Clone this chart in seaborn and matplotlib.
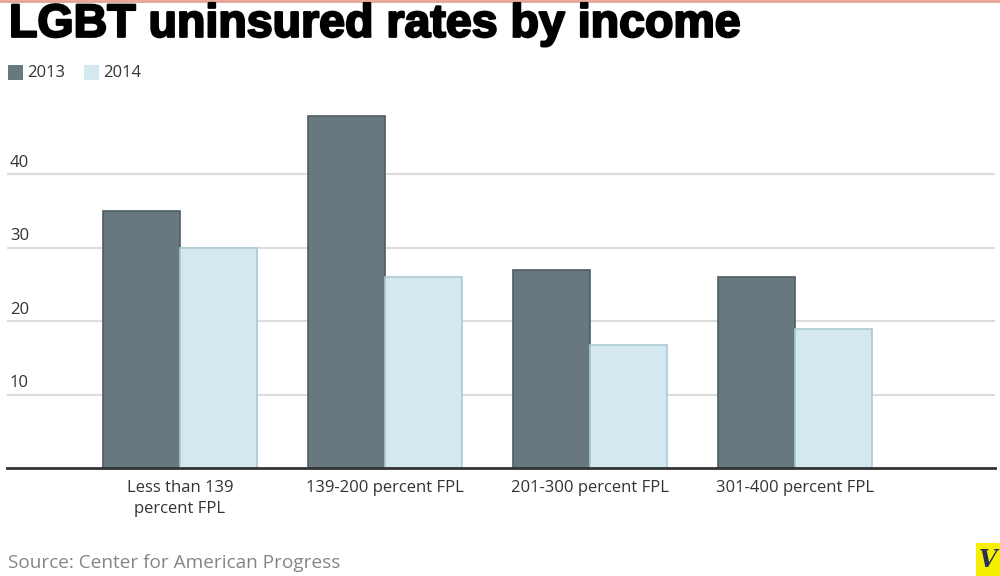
import pandas as pd
import matplotlib
matplotlib.use('Agg')
import matplotlib.pyplot as plt
import matplotlib.transforms as mtransforms
import matplotlib.patheffects as pe
from matplotlib.patches import Rectangle
import seaborn as sns

# chart data
categories = ['Less than 139\npercent FPL', '139-200 percent FPL',
              '201-300 percent FPL', '301-400 percent FPL']
years = ['2013', '2014']
rate_2013 = [35, 48, 27, 26]
rate_2014 = [30, 26, 16.8, 19]
y_ticks = [10, 20, 30, 40]

df = pd.DataFrame({
    'category': categories * 2,
    'year': [years[0]] * 4 + [years[1]] * 4,
    'rate': rate_2013 + rate_2014,
})

sns.set_style('white')
plt.rcParams['font.family'] = ['Open Sans', 'DejaVu Sans']

fill = {'2013': '#67787e', '2014': '#d4e8ef'}
edge = {'2013': '#4e5d63', '2014': '#a9cad4'}

fig = plt.figure(figsize=(10, 5.76), dpi=100)
ax = fig.add_axes([0.007, 0.1875, 0.988, 0.637])

sns.barplot(data=df, x='category', y='rate', hue='year', palette=fill,
            width=0.75, ax=ax, legend=False, saturation=1)

for cont, yr in zip(ax.containers, years):
    for bar in cont:
        bar.set_edgecolor(edge[yr])
        bar.set_linewidth(1.2)
        bar.set_zorder(3)

ax.set_xlim(-0.844, 3.976)
ax.set_ylim(0, 50)
ax.set_yticks(y_ticks)
ax.set_yticklabels([])
ax.tick_params(axis='y', length=0)
ax.yaxis.grid(True, color='#dcdcdc', linewidth=1.5)
ax.set_axisbelow(True)
for s in ['top', 'right', 'left']:
    ax.spines[s].set_visible(False)
ax.spines['bottom'].set_color('#333333')
ax.spines['bottom'].set_linewidth(2)
ax.spines['bottom'].set_zorder(4)
ax.set_xlabel('')
ax.set_ylabel('')
ax.tick_params(axis='x', length=0, pad=9, labelsize=12, labelcolor='#333333')
for lbl in ax.get_xticklabels():
    lbl.set_linespacing(1.35)

# y labels sit above the gridlines, at the left
trans = mtransforms.blended_transform_factory(ax.transAxes, ax.transData)
offset = mtransforms.ScaledTranslation(0, 2.5 / 72, fig.dpi_scale_trans)
for t in y_ticks:
    ax.text(0.003, t, str(t), transform=trans + offset, ha='left', va='bottom',
            fontsize=12, color='#333333')

# top rule
fig.add_artist(plt.Line2D([0, 1], [0.999, 0.999], color='#e5a393', linewidth=2))

fig.text(0.009, 0.957, 'LGBT uninsured rates by income', ha='left', va='center',
         fontsize=33.5, fontweight='bold',
         family=['Liberation Sans', 'DejaVu Sans'], color='#000000',
         path_effects=[pe.withStroke(linewidth=1.6, foreground='#000000')])

# legend
lx = 0.008
for yr in years:
    fig.add_artist(Rectangle((lx, 0.861), 0.015, 0.027, transform=fig.transFigure,
                             facecolor=fill[yr], edgecolor='none'))
    fig.text(lx + 0.019, 0.874, yr, ha='left', va='center', fontsize=12, color='#333333')
    lx += 0.076

fig.text(0.008, 0.022, 'Source: Center for American Progress', ha='left', va='center',
         fontsize=13.7, color='#858585')

# logo box
fig.add_artist(Rectangle((0.976, 0.0), 0.024, 0.057, transform=fig.transFigure,
                         facecolor='#f4f000', edgecolor='none'))
fig.text(0.988, 0.027, 'V', ha='center', va='center', fontsize=17, fontweight='bold',
         style='italic', family=['DejaVu Serif'], color='#2b2f5a')

fig.savefig('out.png', dpi=100)
